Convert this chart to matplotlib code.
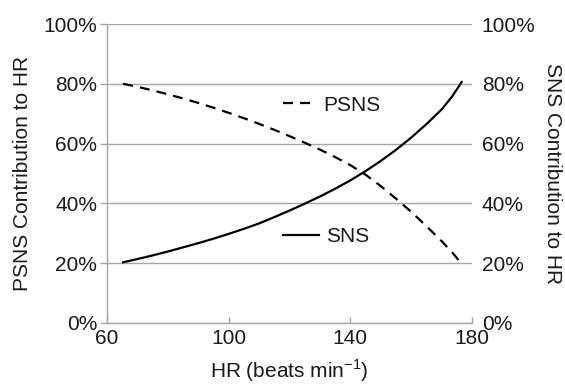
import matplotlib
matplotlib.use("Agg")
import matplotlib.pyplot as plt
from matplotlib.lines import Line2D

plt.rcParams['font.family'] = ['Liberation Sans', 'DejaVu Sans']
plt.rcParams['mathtext.fontset'] = 'custom'
plt.rcParams['mathtext.rm'] = 'Liberation Sans'

# Data
hr = [65.3, 70, 75, 80, 85, 90, 95, 100, 105, 110, 115, 120, 125, 130,
      135, 140, 145, 150, 155, 160, 165, 170, 173.5, 176.6]
sns = [20.3, 21.4, 22.6, 23.9, 25.3, 26.7, 28.2, 29.8, 31.5, 33.3, 35.4, 37.6,
       39.9, 42.3, 44.9, 47.7, 50.8, 54.2, 57.9, 62.0, 66.5, 71.4, 75.8, 80.6]
psns = [80.0, 79.0, 77.8, 76.5, 75.1, 73.6, 72.0, 70.3, 68.5, 66.6, 64.6, 62.5,
        60.3, 58.0, 55.5, 52.8, 49.6, 45.8, 41.6, 37.2, 32.4, 27.4, 23.6, 19.8]

x_ticks = [60, 100, 140, 180]
y_ticks = [0, 20, 40, 60, 80, 100]
y_ticklabels = ['0%', '20%', '40%', '60%', '80%', '100%']

FS = 15
TXT = '#1a1a1a'
GRID = '#a6a6a6'
DASH = (0, (4.5, 3.2))

fig = plt.figure(figsize=(5.65, 3.86), dpi=100)
ax = fig.add_axes([107/565, 1-323/386, 365/565, 299/386])

ax.set_xlim(60, 180)
ax.set_ylim(0, 100)
ax.set_xticks(x_ticks)
ax.set_yticks(y_ticks)
ax.set_yticklabels(y_ticklabels)

ax.yaxis.grid(True, color=GRID, linewidth=1.0)
ax.set_axisbelow(True)
for s in ['top', 'right']:
    ax.spines[s].set_visible(False)
for s in ['left', 'bottom']:
    ax.spines[s].set_color(GRID)
    ax.spines[s].set_linewidth(1.0)

ax.tick_params(axis='y', direction='out', length=5, width=1.0, color=GRID,
               labelsize=FS, labelcolor=TXT, pad=2)
ax.tick_params(axis='x', direction='in', length=4, width=1.0, color=GRID,
               labelsize=FS, labelcolor=TXT, pad=4)

ax.plot(hr, psns, color='black', linewidth=1.6, linestyle=DASH,
        dash_capstyle='butt')
ax.plot(hr, sns, color='black', linewidth=1.6)

ax.set_xlabel('HR (beats min$^{\\mathregular{-1}}$)', fontsize=FS, color=TXT,
              labelpad=7)
ax.set_ylabel('PSNS Contribution to HR', fontsize=FS, color=TXT, labelpad=8)

ax2 = ax.twinx()
ax2.set_ylim(0, 100)
ax2.set_yticks(y_ticks)
ax2.set_yticklabels(y_ticklabels)
for s in ax2.spines.values():
    s.set_visible(False)
ax2.tick_params(axis='y', length=0, labelsize=FS, labelcolor=TXT, pad=7)
ax2.set_ylabel('SNS Contribution to HR', fontsize=FS, color=TXT, rotation=-90,
               labelpad=19)

leg1 = ax.legend(handles=[Line2D([], [], color='black', linewidth=1.6,
                                 linestyle=DASH)],
                 labels=['PSNS'], loc='center left', bbox_to_anchor=(0.482, 0.729),
                 frameon=False, borderpad=0, borderaxespad=0, handlelength=1.6,
                 handletextpad=0.35, fontsize=FS, labelcolor=TXT)
ax.add_artist(leg1)
ax.legend(handles=[Line2D([], [], color='black', linewidth=1.6)],
          labels=['SNS'], loc='center left', bbox_to_anchor=(0.482, 0.288),
          frameon=False, borderpad=0, borderaxespad=0, handlelength=1.75,
          handletextpad=0.3, fontsize=FS, labelcolor=TXT)

fig.savefig('out.png', dpi=100)
